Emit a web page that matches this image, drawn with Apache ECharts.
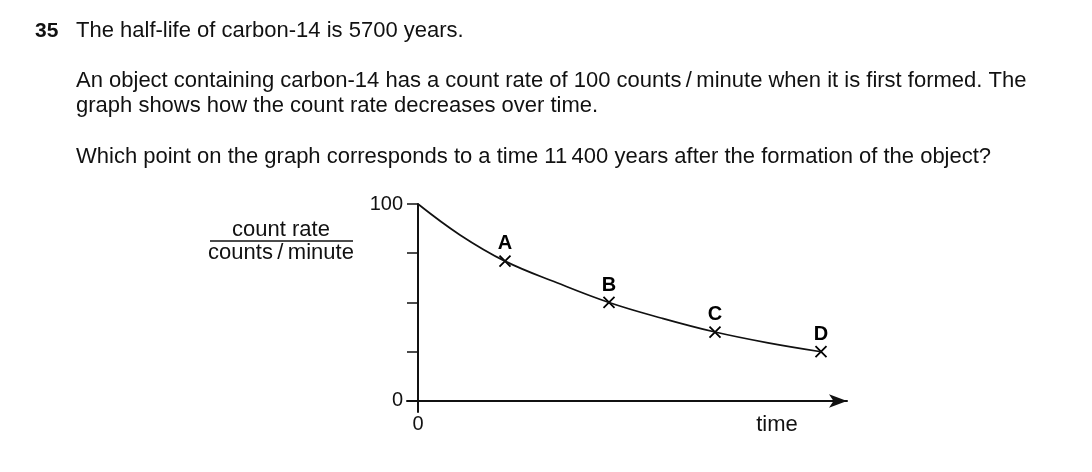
<!DOCTYPE html>
<html>
<head>
<meta charset="utf-8">
<script src="https://cdn.jsdelivr.net/npm/echarts@6/dist/echarts.min.js"></script>
<style>
html,body{margin:0;padding:0;background:#fff;}
#chart{width:1092px;height:472px;}
</style>
</head>
<body>
<div id="chart"></div>
<script>
// ---- data (time in arbitrary units along the unlabeled time axis) ----
const curveTime  = [0, 42, 87, 139, 191, 244, 297, 350, 403];
const curveCount = [100, 84.3, 71, 60, 50, 42, 35, 29.5, 25];
const pointNames = ['A', 'B', 'C', 'D'];
const pointTime  = [87, 191, 297, 403];
const pointCount = [71, 50, 35, 25];
const yTicks = [0, 25, 50, 75, 100];
const yLabels = [0, 100];
const xLabels = [0];

const FONT = '"Liberation Sans", Arial, sans-serif';
const INK = '#111';

const chart = echarts.init(document.getElementById('chart'), null, {renderer: 'canvas'});

const crossPath = 'path://M0,0L10,10M10,0L0,10';

chart.setOption({
  animation: false,
  backgroundColor: '#fff',
  grid: {left: 407, right: 245, top: 204, bottom: 60, containLabel: false},
  xAxis: {
    type: 'value', min: -11, max: 429,
    axisLine: {show: true, onZero: true, symbol: ['none', 'arrow'], symbolSize: [10, 18],
      lineStyle: {color: INK, width: 2}},
    axisTick: {show: true, customValues: [0], length: 11, inside: false, lineStyle: {color: INK, width: 2}},
    axisLabel: {show: true, customValues: xLabels, margin: 2, color: INK,
      fontFamily: FONT, fontSize: 20},
    splitLine: {show: false}
  },
  yAxis: {
    type: 'value', min: -5.6, max: 100,
    axisLine: {show: true, onZero: true, lineStyle: {color: INK, width: 2}},
    axisTick: {show: true, customValues: yTicks, length: 11, inside: false, lineStyle: {color: INK, width: 1.5}},
    axisLabel: {show: true, customValues: yLabels, margin: 4, color: INK,
      fontFamily: FONT, fontSize: 20},
    splitLine: {show: false}
  },
  series: [
    {
      type: 'line',
      data: curveTime.map((t, i) => [t, curveCount[i]]),
      smooth: 0.4,
      showSymbol: false,
      lineStyle: {color: INK, width: 1.7},
      silent: true
    },
    {
      type: 'scatter',
      data: pointTime.map((t, i) => ({value: [t, pointCount[i]], name: pointNames[i]})),
      symbol: crossPath,
      symbolSize: 11,
      itemStyle: {color: 'rgba(0,0,0,0)', borderColor: '#000', borderWidth: 1.8, opacity: 1},
      label: {show: true, position: 'top', distance: 1, formatter: p => p.name,
        color: '#000', fontFamily: FONT, fontSize: 20, fontWeight: 'bold', opacity: 1},
      silent: true
    }
  ],
  graphic: [
    {type: 'text', x: 35, y: 31, style: {text: '35', font: 'bold 21px ' + FONT, fill: INK, verticalAlign: 'middle'}},
    {type: 'text', x: 76, y: 31, style: {text: 'The half-life of carbon-14 is 5700 years.', font: '22px ' + FONT, fill: INK, verticalAlign: 'middle'}},
    {type: 'text', x: 76, y: 81, style: {text: 'An object containing carbon-14 has a count rate of 100 counts\u2009/\u2009minute when it is first formed. The', font: '22px ' + FONT, fill: INK, verticalAlign: 'middle'}},
    {type: 'text', x: 76, y: 106, style: {text: 'graph shows how the count rate decreases over time.', font: '22px ' + FONT, fill: INK, verticalAlign: 'middle'}},
    {type: 'text', x: 76, y: 157, style: {text: 'Which point on the graph corresponds to a time 11\u2009400 years after the formation of the object?', font: '22px ' + FONT, fill: INK, verticalAlign: 'middle'}},
    {type: 'text', x: 281, y: 230, style: {text: 'count rate', font: '22px ' + FONT, fill: INK, align: 'center', verticalAlign: 'middle'}},
    {type: 'line', shape: {x1: 210, y1: 241, x2: 353, y2: 241}, style: {stroke: INK, lineWidth: 1.5}},
    {type: 'text', x: 281, y: 253, style: {text: 'counts\u2009/\u2009minute', font: '22px ' + FONT, fill: INK, align: 'center', verticalAlign: 'middle'}},
    {type: 'text', x: 777, y: 425, style: {text: 'time', font: '22px ' + FONT, fill: INK, align: 'center', verticalAlign: 'middle'}}
  ]
});
</script>
</body>
</html>
